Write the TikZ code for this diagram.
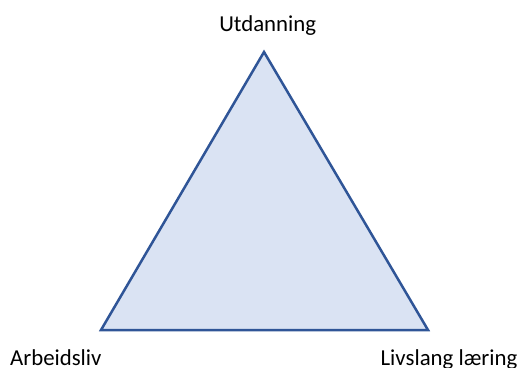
\documentclass[tikz,border=0pt]{standalone}
\usepackage{fontspec}
\setmainfont{Carlito}
\definecolor{edgeblue}{HTML}{2F5597}
\definecolor{fillblue}{HTML}{DAE3F3}
\begin{document}
\begin{tikzpicture}[x=1pt,y=-1pt,
  lbl/.style={anchor=base,inner sep=0pt,font=\fontsize{22.8}{27}\selectfont},
  tri/.style={draw=edgeblue,fill=fillblue,line width=2.5pt,line join=miter}]
\useasboundingbox (0,0) rectangle (521,367);
\coordinate (top) at (264,52);
\coordinate (left) at (101,330);
\coordinate (right) at (428,330);
\filldraw[tri] (top) -- (left) -- (right) -- cycle;
\node[lbl] (u) at (267.7,31) {Utdanning};
\node[lbl] (a) at (55.8,365) {Arbeidsliv};
\node[lbl] (l) at (449,365) {Livslang læring};
\end{tikzpicture}
\end{document}
